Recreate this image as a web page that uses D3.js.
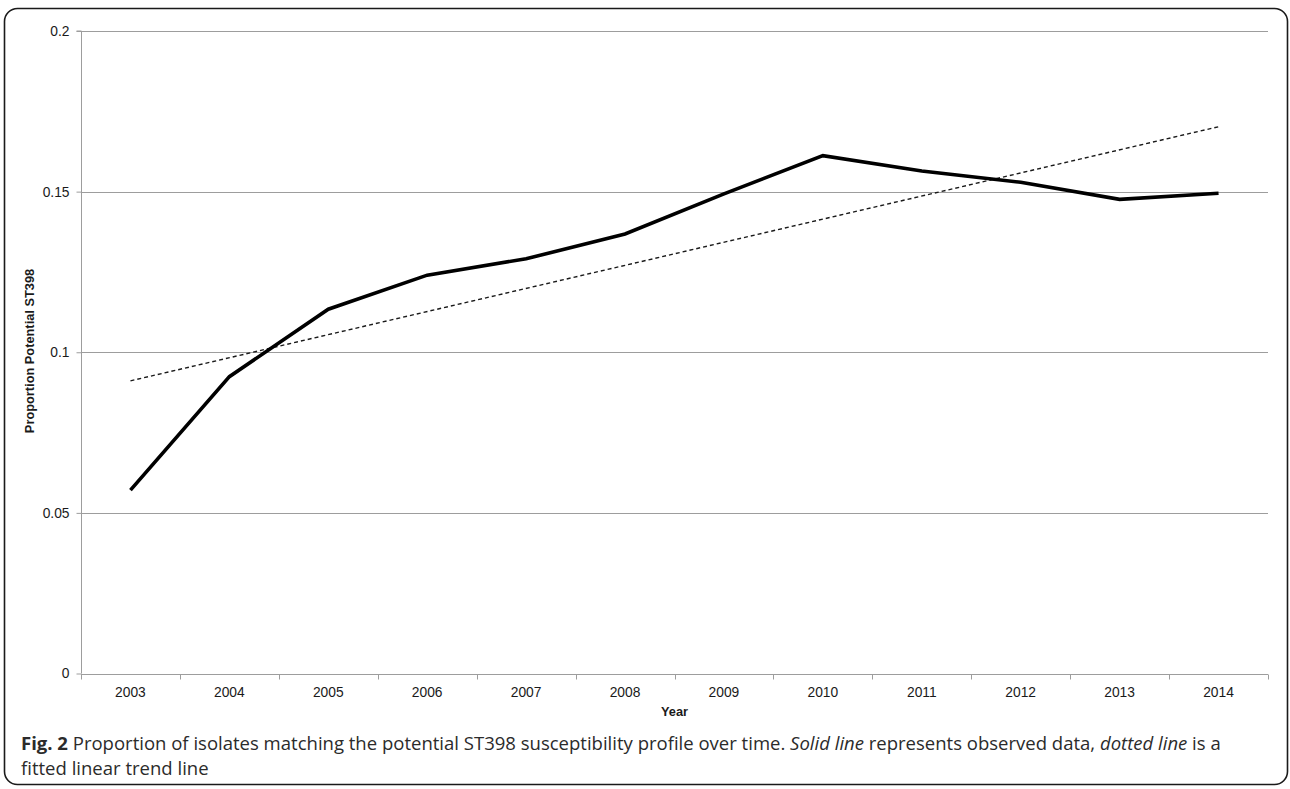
<!DOCTYPE html>
<html>
<head>
<meta charset="utf-8">
<script src="https://cdn.jsdelivr.net/npm/d3@7/dist/d3.min.js"></script>
<style>
  html, body { margin: 0; padding: 0; background: #fff; }
  svg { display: block; }
</style>
</head>
<body>
<svg id="chart" width="1290" height="789"></svg>
<script>
// Years on the category axis
const years = ["2003", "2004", "2005", "2006", "2007", "2008", "2009", "2010", "2011", "2012", "2013", "2014"];
// Observed proportion of isolates with the potential ST398 profile
const observed = [0.0571, 0.0924, 0.1134, 0.1240, 0.1291, 0.1368, 0.1493, 0.1612, 0.1564, 0.1529, 0.1476, 0.1495];
// Fitted linear trend, values at the first and last year
const trendYears = ["2003", "2014"];
const trendValues = [0.0911, 0.1702];
// Y-axis ticks
const yTicks = [0, 0.05, 0.1, 0.15, 0.2];
const yTickLabels = ["0", "0.05", "0.1", "0.15", "0.2"];

const svg = d3.select("#chart");
const plot = { left: 81, right: 1268, top: 31, bottom: 673.5 };

// Rounded figure frame
svg.append("rect")
  .attr("x", 4.5).attr("y", 8.5)
  .attr("width", 1283).attr("height", 776)
  .attr("rx", 13).attr("ry", 13)
  .attr("fill", "none").attr("stroke", "#1a1a1a").attr("stroke-width", 1.6);

const x = d3.scaleBand().domain(years).range([plot.left, plot.right]).padding(0);
const y = d3.scaleLinear().domain([0, 0.2]).range([plot.bottom, plot.top]);
const cx = d => x(d) + x.bandwidth() / 2;

const gridColor = "#9d9d9d";
const axisFont = "Liberation Sans, Arial, sans-serif";

// Horizontal gridlines
svg.append("g").selectAll("line")
  .data(yTicks.filter(v => v > 0))
  .join("line")
  .attr("x1", plot.left).attr("x2", plot.right)
  .attr("y1", d => Math.round(y(d)) + 0.5).attr("y2", d => Math.round(y(d)) + 0.5)
  .attr("stroke", gridColor).attr("stroke-width", 1.1);

// Y axis
const yAxis = d3.axisLeft(y).tickValues(yTicks)
  .tickFormat((d, i) => yTickLabels[i]).tickSize(5).tickPadding(7);
const gy = svg.append("g").attr("transform", `translate(${plot.left + 0.5},0)`).call(yAxis);
gy.select(".domain").attr("stroke", gridColor).attr("d", `M-5,${y(0.2)}H0V${y(0)}`);
gy.selectAll(".tick line").attr("stroke", gridColor);
gy.selectAll(".tick text")
  .attr("font-family", axisFont)
  .attr("font-size", 13.8).attr("fill", "#1a1a1a");

// X axis with ticks at category boundaries
const gx = svg.append("g").attr("transform", `translate(0,${Math.round(plot.bottom) + 0.5})`);
gx.append("line")
  .attr("x1", plot.left).attr("x2", plot.right)
  .attr("stroke", gridColor).attr("stroke-width", 1.1);
gx.selectAll("line.tk")
  .data(years.map(d => x(d)).concat([plot.right]))
  .join("line").attr("class", "tk")
  .attr("x1", d => Math.round(d) + 0.5).attr("x2", d => Math.round(d) + 0.5)
  .attr("y1", 0).attr("y2", 5)
  .attr("stroke", gridColor);
gx.selectAll("text")
  .data(years)
  .join("text")
  .attr("x", d => cx(d)).attr("y", 22)
  .attr("text-anchor", "middle")
  .attr("font-family", axisFont)
  .attr("font-size", 13.8).attr("fill", "#1a1a1a")
  .text(d => d);

// Axis titles
svg.append("text")
  .attr("x", (plot.left + plot.right) / 2).attr("y", 716)
  .attr("text-anchor", "middle")
  .attr("font-family", axisFont)
  .attr("font-size", 12.8).attr("font-weight", "bold").attr("fill", "#1a1a1a")
  .text("Year");
svg.append("text")
  .attr("transform", "translate(34,351) rotate(-90)")
  .attr("text-anchor", "middle")
  .attr("font-family", axisFont)
  .attr("font-size", 12.8).attr("font-weight", "bold").attr("fill", "#1a1a1a")
  .text("Proportion Potential ST398");

// Trend line (dashed)
svg.append("path")
  .datum(trendYears.map((d, i) => [cx(d), y(trendValues[i])]))
  .attr("d", d3.line())
  .attr("fill", "none").attr("stroke", "#1a1a1a")
  .attr("stroke-width", 1.4).attr("stroke-dasharray", "4,3");

// Observed series (solid)
svg.append("path")
  .datum(years.map((d, i) => [cx(d), y(observed[i])]))
  .attr("d", d3.line())
  .attr("fill", "none").attr("stroke", "#000")
  .attr("stroke-width", 3.6).attr("stroke-linejoin", "miter");

// Caption
const capFont = "Open Sans, Noto Sans, sans-serif";
const cap1 = svg.append("text").attr("x", 21).attr("y", 750)
  .attr("font-family", capFont).attr("font-size", 18).attr("fill", "#2b2b2b");
cap1.append("tspan").attr("font-weight", "bold").text("Fig. 2");
cap1.append("tspan").text(" Proportion of isolates matching the potential ST398 susceptibility profile over time. ");
cap1.append("tspan").attr("font-style", "italic").text("Solid line");
cap1.append("tspan").text(" represents observed data, ");
cap1.append("tspan").attr("font-style", "italic").text("dotted line");
cap1.append("tspan").text(" is a");
const cap2 = svg.append("text").attr("x", 21).attr("y", 775)
  .attr("font-family", capFont).attr("font-size", 18).attr("fill", "#2b2b2b")
  .text("fitted linear trend line");

// Fit the first caption line to its measured width
const w = cap1.node().getComputedTextLength();
const fs = 18 * 1201 / w;
cap1.attr("font-size", fs);
cap2.attr("font-size", fs);
</script>
</body>
</html>
